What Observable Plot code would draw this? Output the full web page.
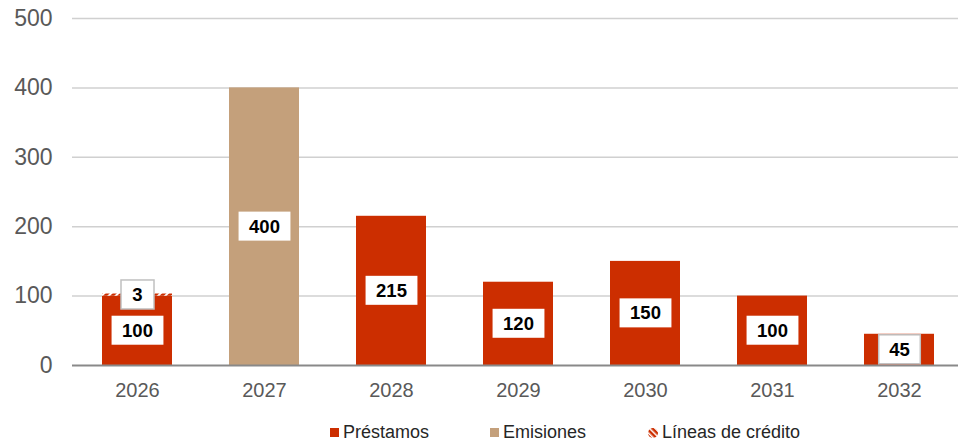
<!DOCTYPE html>
<html>
<head>
<meta charset="utf-8">
<script src="https://cdn.jsdelivr.net/npm/d3@7"></script>
<script src="https://cdn.jsdelivr.net/npm/@observablehq/plot@0.6"></script>
<style>
  body { margin: 0; background: #fff; font-family: "Liberation Sans", Arial, sans-serif; }
  #legend { position: relative; height: 31px; font-size: 18px; color: #262626; }
  .item { position: absolute; top: 10px; display: flex; align-items: center; white-space: nowrap; }
  .sw { width: 9px; height: 9px; margin-right: 4px; }
</style>
</head>
<body>
<div id="chart"></div>
<div id="legend"></div>
<script>
const years = ["2026", "2027", "2028", "2029", "2030", "2031", "2032"];
const series = ["Préstamos", "Emisiones", "Líneas de crédito"];
const prestamos = [100, 0, 215, 120, 150, 100, 45];
const emisiones = [0, 400, 0, 0, 0, 0, 0];
const lineas = [3, 0, 0, 0, 0, 0, 0];
const yTicks = [0, 100, 200, 300, 400, 500];
const boxedLabels = ["2026|Líneas de crédito", "2032|Préstamos"];

const colors = ["#CC2E00", "#C4A07B", "url(#hatch)"];

const rows = [];
years.forEach((yr, i) => {
  [prestamos, emisiones, lineas].forEach((arr, s) => {
    if (arr[i] > 0) rows.push({year: yr, series: series[s], value: arr[i]});
  });
});

const chart = Plot.plot({
  width: 958,
  height: 412,
  marginLeft: 72,
  marginRight: 0,
  marginTop: 18,
  marginBottom: 47,
  style: {fontFamily: "'Liberation Sans', Arial, sans-serif", background: "#fff"},
  x: {domain: years, paddingInner: 0.45, paddingOuter: 0.2, align: 0.55, label: null},
  y: {domain: [0, 500], label: null},
  color: {domain: series, range: colors},
  marks: [
    Plot.ruleY(yTicks.filter(d => d > 0), {stroke: "#d0d0d0", strokeWidth: 1.5}),
    Plot.axisY(yTicks, {tickSize: 0, tickPadding: 20, fontSize: 23, fill: "#595959", label: null}),
    Plot.axisX({tickSize: 0, tickPadding: 17, fontSize: 20, fill: "#595959", label: null}),
    Plot.barY(rows, {x: "year", y: "value", z: "series", fill: "series"}),
    Plot.ruleY([0], {stroke: "#898989", strokeWidth: 2}),
    Plot.text(rows, Plot.stackY({
      x: "year", y: "value", z: "series",
      text: d => String(d.value),
      fontSize: 18.5, fontWeight: "bold", fill: "#000"
    }))
  ]
});

// hatch pattern definition
const ns = "http://www.w3.org/2000/svg";
const defs = document.createElementNS(ns, "defs");
defs.innerHTML = `<pattern id="hatch" patternUnits="userSpaceOnUse" width="5" height="5" patternTransform="rotate(45)">
  <rect width="5" height="5" fill="#CC2E00"></rect>
  <rect width="2" height="5" fill="#ffffff"></rect>
</pattern>`;
chart.insertBefore(defs, chart.firstChild);
document.getElementById("chart").append(chart);

// label boxes
const g = chart.querySelector('g[aria-label="text"]');
if (g) {
  const texts = Array.from(g.querySelectorAll("text"));
  texts.forEach((t, i) => {
    const r = rows[i];
    const bb = t.getBBox();
    const w = Math.max(bb.width + 21, 33);
    const h = 29;
    const cx = bb.x + bb.width / 2, cy = bb.y + bb.height / 2;
    const rect = document.createElementNS(ns, "rect");
    rect.setAttribute("x", cx - w / 2);
    rect.setAttribute("y", cy - h / 2);
    rect.setAttribute("width", w);
    rect.setAttribute("height", h);
    rect.setAttribute("fill", "#fff");
    if (r && boxedLabels.includes(r.year + "|" + r.series)) {
      rect.setAttribute("stroke", "#c0c0c0");
      rect.setAttribute("stroke-width", "1.5");
    }
    if (t.getAttribute("transform")) rect.setAttribute("transform", t.getAttribute("transform"));
    t.parentNode.insertBefore(rect, t);
  });
}

// legend
const legend = document.getElementById("legend");
const lx = [330, 490, 648];
series.forEach((s, i) => {
  const item = document.createElement("div");
  item.className = "item";
  item.style.left = lx[i] + "px";
  let sw;
  if (i < 2) {
    sw = `<div class="sw" style="background:${colors[i]}"></div>`;
  } else {
    sw = `<svg class="sw" viewBox="0 0 10 10" style="width:10px;height:10px;margin-right:4px"><defs><pattern id="hatchL" patternUnits="userSpaceOnUse" width="4" height="4" patternTransform="rotate(-45)"><rect width="4" height="4" fill="#CC2E00"></rect><rect width="1.5" height="4" fill="#fff"></rect></pattern></defs><circle cx="5" cy="5" r="5" fill="url(#hatchL)"></circle></svg>`;
  }
  item.innerHTML = sw + `<span>${s}</span>`;
  legend.append(item);
});
</script>
</body>
</html>
